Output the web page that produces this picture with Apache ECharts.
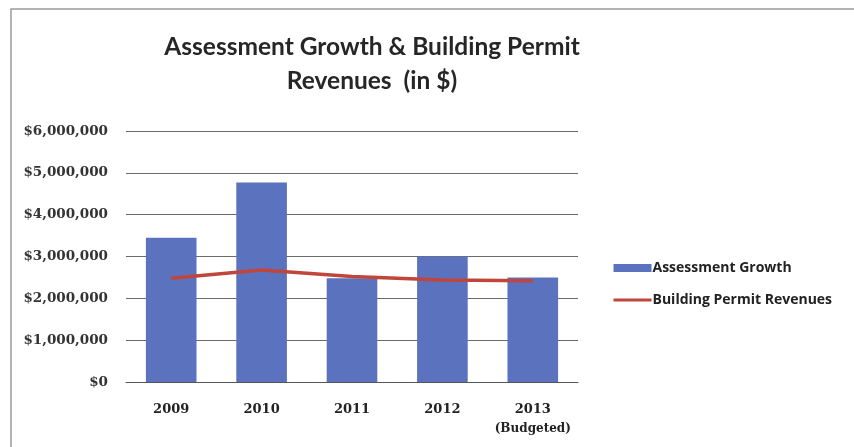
<!DOCTYPE html>
<html>
<head>
<meta charset="utf-8">
<script src="https://cdn.jsdelivr.net/npm/echarts@6/dist/echarts.min.js"></script>
<style>
  html, body { margin: 0; padding: 0; background: #fff; }
  #chart { width: 854px; height: 447px; }
</style>
</head>
<body>
<div id="chart"></div>
<script>
// Yearly values
const years = ['2009', '2010', '2011', '2012', '2013\n(Budgeted)'];
const assessmentGrowth = [3450000, 4770000, 2480000, 3000000, 2500000];
const permitRevenues = [2480000, 2680000, 2520000, 2440000, 2420000];
const yTicks = [0, 1000000, 2000000, 3000000, 4000000, 5000000, 6000000];

const chart = echarts.init(document.getElementById('chart'), null, { renderer: 'canvas' });

function money(v) {
  return '$' + v.toLocaleString('en-US');
}

chart.setOption({
  backgroundColor: '#ffffff',
  animation: false,
  graphic: [{
    type: 'rect',
    shape: { x: 11, y: 9, width: 900, height: 500 },
    style: { fill: 'none', stroke: '#9a9a9a', lineWidth: 1.5 },
    silent: true
  }],
  title: {
    text: 'Assessment Growth & Building Permit\nRevenues  (in $)',
    left: 367,
    textAlign: 'center',
    top: 25,
    textStyle: {
      fontFamily: 'Lato',
      fontWeight: 'bold',
      fontSize: 24.5,
      lineHeight: 34,
      color: '#262626'
    }
  },
  legend: {
    orient: 'vertical',
    left: 607,
    top: 256,
    itemWidth: 38,
    itemHeight: 8,
    itemGap: 18,
    textStyle: { fontFamily: 'Open Sans', fontWeight: 'bold', fontSize: 14, color: '#222', padding: [0, 0, 0, -4] },
    data: [
      { name: 'Assessment Growth', icon: 'rect' },
      { name: 'Building Permit Revenues', itemStyle: { opacity: 0 }, lineStyle: { width: 3 } }
    ]
  },
  grid: { left: 126, right: 276, top: 131, bottom: 65 },
  xAxis: {
    type: 'category',
    data: years,
    axisTick: { show: false },
    axisLine: { lineStyle: { color: '#555' } },
    axisLabel: {
      interval: 0,
      margin: 18,
      fontFamily: 'DejaVu Serif',
      fontWeight: 'bold',
      fontSize: 13,
      lineHeight: 19,
      color: '#222',
      formatter: function (v) {
        const parts = v.split('\n');
        return parts.length > 1 ? parts[0] + '\n{sub|' + parts[1] + '}' : v;
      },
      rich: {
        sub: { fontFamily: 'DejaVu Serif', fontWeight: 'bold', fontSize: 12, color: '#222' }
      }
    }
  },
  yAxis: {
    type: 'value',
    min: yTicks[0],
    max: yTicks[yTicks.length - 1],
    interval: 1000000,
    axisLine: { show: false },
    axisTick: { show: false },
    splitLine: { lineStyle: { color: '#6a6a6a', width: 1 } },
    axisLabel: {
      margin: 18,
      fontFamily: 'DejaVu Serif',
      fontWeight: 'bold',
      fontSize: 13.5,
      color: '#333',
      formatter: money
    }
  },
  series: [
    {
      name: 'Assessment Growth',
      type: 'bar',
      data: assessmentGrowth,
      barWidth: '56%',
      itemStyle: { color: '#5b73be' }
    },
    {
      name: 'Building Permit Revenues',
      type: 'line',
      data: permitRevenues,
      symbol: 'none',
      lineStyle: { color: '#c0453a', width: 3.5 },
      itemStyle: { color: '#c0453a' }
    }
  ]
});
</script>
</body>
</html>
